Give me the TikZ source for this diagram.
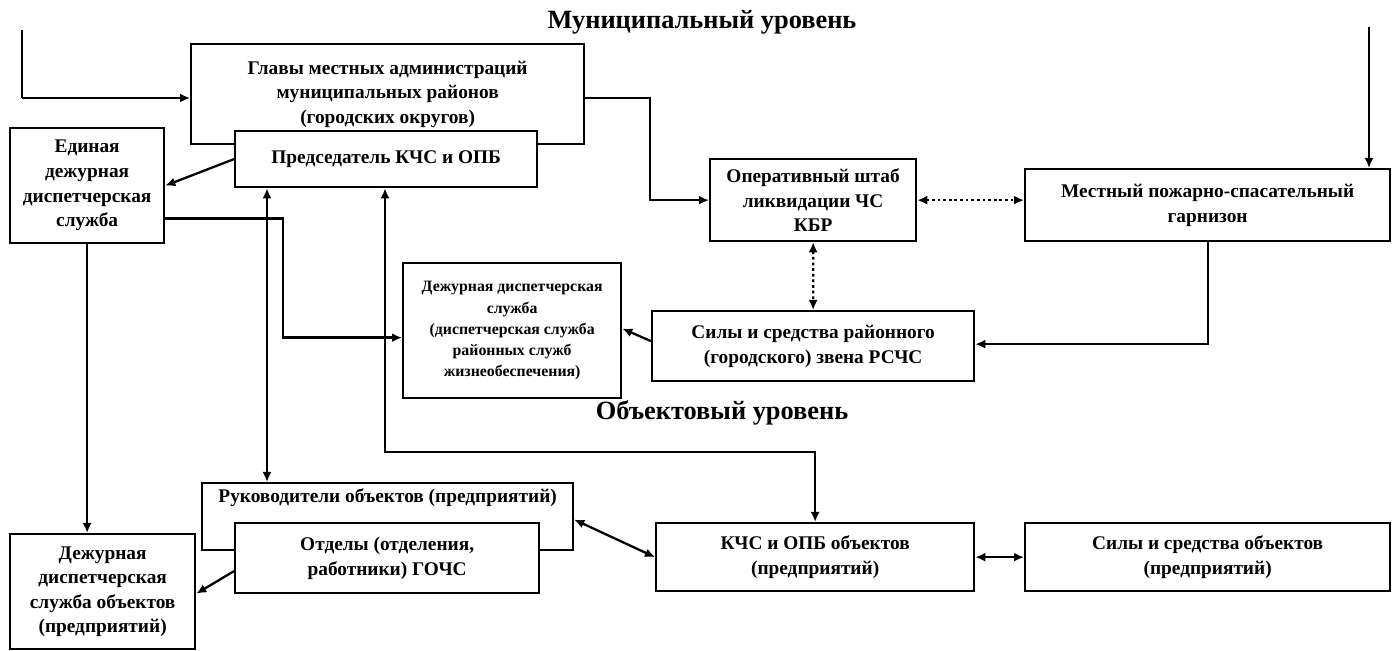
\documentclass[tikz,border=0pt]{standalone}
\usepackage{fontspec}
\setmainfont{Liberation Serif}
\usetikzlibrary{arrows.meta,positioning,calc}

\begin{document}
\begin{tikzpicture}[x=0.2mm, y=-0.2mm,
    box/.style={draw, line width=1.3pt, fill=white, align=center, inner sep=2pt, anchor=north west,
      font=\bfseries\fontsize{11}{14}\selectfont},
    small/.style={font=\bfseries\fontsize{9}{12}\selectfont},
    level/.style={font=\bfseries\fontsize{15}{18}\selectfont},
    arr/.style={line width=1.3pt, -{Latex[length=2mm,width=1.8mm]}},
    dbl/.style={line width=1.3pt, {Latex[length=2mm,width=1.8mm]}-{Latex[length=2mm,width=1.8mm]}},
    dots/.style={dbl, dash pattern=on 1.6pt off 1.6pt}]

    \useasboundingbox (0,0) rectangle (1396,651);

    % Levels
    \node[level] (mun) at (702,22) {Муниципальный уровень};
    \node[level] (obj) at (722,413) {Объектовый уровень};

    % Municipal level
    \node[box, minimum width=78.6mm, minimum height=20mm] (glavy) at (190,43)
      {Главы местных администраций\\муниципальных районов\\(городских округов)};
    \node[box, minimum width=60.4mm, minimum height=11.2mm] (pred) at (234,130)
      {Председатель КЧС и ОПБ};
    \node[box, minimum width=30.8mm, minimum height=23mm] (edds) at (9,127)
      {Единая\\дежурная\\диспетчерская\\служба};
    \node[box, minimum width=41.2mm, minimum height=16.4mm] (oper) at (709,158)
      {Оперативный штаб\\ликвидации ЧС\\КБР};
    \node[box, minimum width=73mm, minimum height=14.4mm] (mest) at (1024,168)
      {Местный пожарно-спасательный\\гарнизон};
    \node[box, small, minimum width=43.6mm, minimum height=27mm] (dds) at (402,262)
      {Дежурная диспетчерская\\служба\\(диспетчерская служба\\районных служб\\жизнеобеспечения)};
    \node[box, minimum width=64.4mm, minimum height=14mm] (sily) at (651,310)
      {Силы и средства районного\\(городского) звена РСЧС};

    % Object level
    \node[box, minimum width=74.2mm, minimum height=13.4mm] (ruk) at (201,482) {};
    \node[font=\bfseries\fontsize{11}{14}\selectfont, anchor=north] (rukt) at (ruk.north)
      {Руководители объектов (предприятий)};
    \node[box, minimum width=60.8mm, minimum height=14mm] (otd) at (234,522)
      {Отделы (отделения,\\работники) ГОЧС};
    \node[box, minimum width=37mm, minimum height=23mm] (ddsob) at (9,533)
      {Дежурная\\диспетчерская\\служба объектов\\(предприятий)};
    \node[box, minimum width=63.6mm, minimum height=13.6mm] (kchsob) at (655,522)
      {КЧС и ОПБ объектов\\(предприятий)};
    \node[box, minimum width=73mm, minimum height=13.6mm] (silyob) at (1024,522)
      {Силы и средства объектов\\(предприятий)};

    % Incoming lines
    \coordinate (inL) at (22,30);
    \coordinate (inR) at (1369,27);
    \draw[line width=1.3pt] (inL) -- ++(0,68) coordinate (inLb);
    \draw[arr] (inLb) -- (inLb -| glavy.west);
    \draw[arr] (inR) -- (inR |- mest.north);

    % Connections
    \draw[arr] ($(glavy.east)+(0,4)$) -- ++(65,0) |- (oper.west);
    \draw[arr] (pred.west) -- (edds.east);
    \draw[arr] ($(edds.east)+(0,33)$) -- ++(118,0) |- ($(dds.west)+(0,7)$);
    \draw[arr] (edds.south) -- (edds.south |- ddsob.north);
    \draw[dbl] ($(pred.south west)+(33,0)$) -- ($(ruk.north west)+(66,0)$);
    \draw[dbl] ($(pred.south west)+(151,0)$) |- ($(kchsob.north)+(0,-70)$) -- (kchsob.north);
    \draw[dots] (oper.east) -- (oper.east -| mest.west);
    \draw[dots] (oper.south) -- (sily.north);
    \draw[arr] (mest.south) |- ($(sily.east)+(0,-2)$);
    \draw[arr] ($(sily.west)+(0,-5)$) -- ($(dds.east)+(0,-2)$);
    \draw[arr] ($(otd.west)+(0,13)$) -- ($(ddsob.east)+(0,2)$);
    \draw[dbl] ($(ruk.east)+(0,3)$) -- (kchsob.west);
    \draw[dbl] (kchsob.east) -- (silyob.west);
\end{tikzpicture}
\end{document}
